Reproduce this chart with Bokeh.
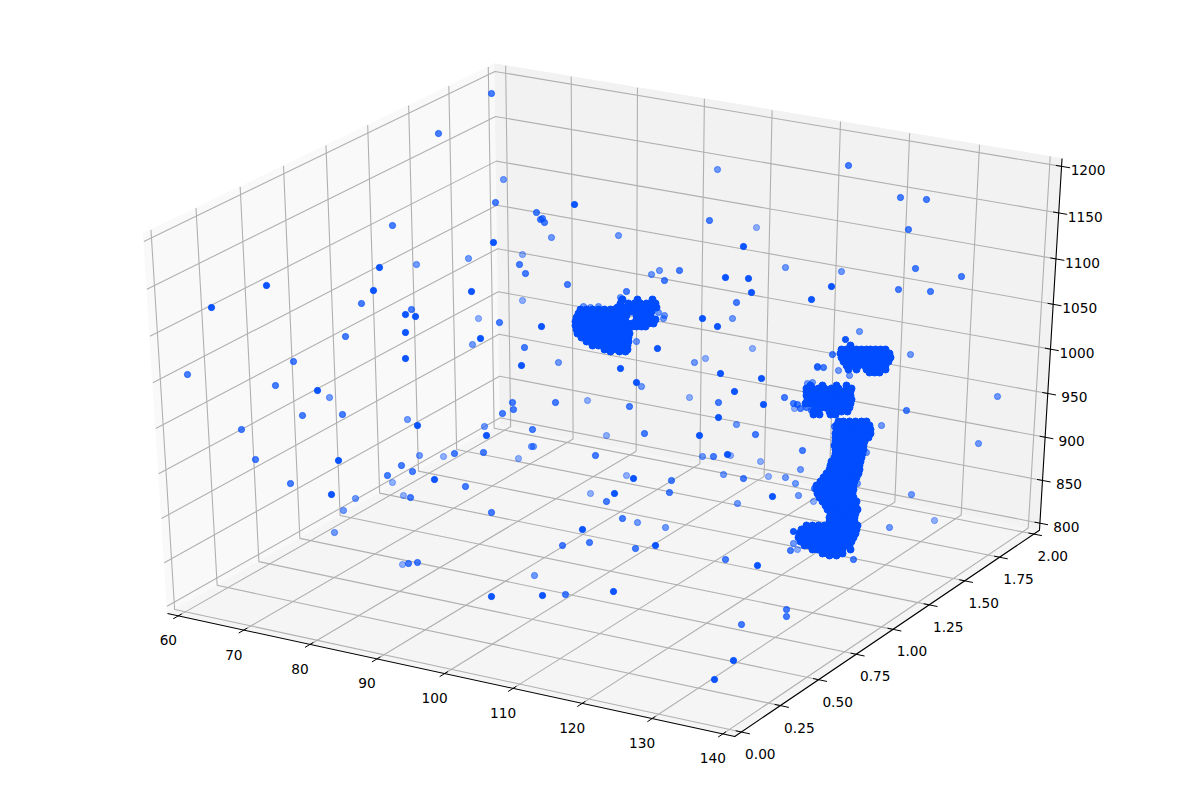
import numpy as np
from bokeh.plotting import figure
from bokeh.embed import file_html
from bokeh.resources import INLINE
from bokeh.core.properties import value

# axis content
x_ticks = [60, 70, 80, 90, 100, 110, 120, 130, 140]
y_ticks = [0.00, 0.25, 0.50, 0.75, 1.00, 1.25, 1.50, 1.75, 2.00]
z_ticks = [800, 850, 900, 950, 1000, 1050, 1100, 1150, 1200]
x_labels = ["60", "70", "80", "90", "100", "110", "120", "130", "140"]
y_labels = ["0.00", "0.25", "0.50", "0.75", "1.00", "1.25", "1.50", "1.75", "2.00"]
z_labels = ["800", "850", "900", "950", "1000", "1050", "1100", "1150", "1200"]
x_lim = (60, 140)
y_lim = (0, 2)
z_lim = (800, 1200)

# scatter points as seen in the picture's plane, split by depth shade
near_pts = [(493,242),(379,267),(266,285),(373,290),(471,291),(211,307),(405,314),(415,316),(405,332),(480,338),
            (405,358),(521,365),(317,390),(417,425),(486,435),(338,460),(434,479),(331,494),(491,596),(574,204),
            (743,246),(725,277),(748,278),(751,292),(811,299),(702,318),(717,326),(541,326),(657,348),(620,368),
            (720,373),(761,378),(636,382),(734,391),(763,404),(718,417),(699,435),(727,454),(772,496),(633,478),
            (614,493),(582,529),(655,545),(757,565),(613,591),(733,660),(714,679),(845,339),(793,531),(542,595),
            (831,286)]
mid_pts = [(491,93),(438,133),(495,202),(536,212),(540,219),(392,225),(519,264),(525,273),(361,303),(411,309),
           (499,322),(345,336),(524,347),(293,361),(187,374),(275,385),(512,402),(513,409),(302,415),(342,414),
           (502,413),(241,429),(532,429),(255,459),(454,453),(483,452),(401,465),(412,471),(387,475),(465,486),
           (290,483),(410,497),(491,512),(408,563),(417,562),(718,402),(555,402),(629,406),(755,434),(644,433),
           (595,455),(713,456),(743,478),(671,480),(669,492),(606,501),(622,518),(589,542),(562,545),(635,548),
           (725,559),(565,594),(542,218),(544,222),(709,220),(567,284),(679,270),(664,280),(736,302),(848,165),
           (900,197),(926,199),(908,229),(915,268),(961,276),(930,291),(898,289),(906,410),(786,609),(786,616),
           (741,624),(802,450),(814,488),(790,550),(853,559),(784,397),(626,291),(817,366),(823,367),(832,354),
           (800,408),(806,407),(811,410),(797,404),(793,403),(834,426),(835,455)]
far_pts = [(503,179),(416,264),(468,258),(472,344),(329,397),(407,419),(484,426),(419,455),(531,446),(533,446),
           (355,498),(343,510),(334,532),(534,575),(736,424),(702,456),(723,474),(737,503),(637,522),(665,527),
           (717,169),(551,237),(618,235),(785,267),(651,274),(659,270),(732,318),(636,341),(558,362),(694,362),
           (817,367),(641,386),(841,271),(859,331),(910,354),(997,396),(978,443),(911,494),(881,425),(889,527),
           (800,469),(785,477),(795,483),(798,495),(793,543),(620,297),(621,299),(583,306),(590,307),(598,306),
           (658,312),(664,315),(663,318),(838,370),(849,375),(807,383),(812,382),(833,463),(867,434),(866,452),
           (857,483)]
faint_pts = [(522,254),(522,300),(478,318),(443,456),(518,458),(392,482),(403,495),(402,564),(587,400),(606,435),
             (730,455),(760,461),(768,476),(626,475),(590,493),(756,227),(752,348),(705,358),(689,397),(934,520),
             (797,549),(813,501),(794,408)]

# dense clumps, row by row: {row: positions along the row}
clump_a = {309:[580,586,592,598,604,610,614],
           313:[578,583,588,594,600,606,612,618],
           317:[576,581,586,592,598,604,610,616,622],
           321:[575,580,585,590,596,602,608,614,620,625],
           325:[575,580,586,592,598,604,610,616,622,627],
           329:[576,582,588,594,600,606,612,618,624,628],
           333:[577,583,589,595,601,607,613,619,625,629],
           337:[581,587,593,599,605,611,617,623,628],
           341:[586,592,598,604,610,616,622,628],
           345:[592,598,604,610,616,622,627],
           349:[604,610,616,622,627],
           351:[610,619,625]}
clump_arm = {299:[622,637,652],
             303:[620,628,634,640,646,652,655],
             307:[617,622,628,633,640,646,652,656],
             311:[615,620,626,631,634,640,646,651],
             315:[614,620,626,636,640,646,650],
             319:[618,624,636,640,645,650,655],
             323:[622,627,632,636,640,644,648,653],
             326:[632,636,641,645]}
clump_b = {345:[850],
           349:[841,846,851,856,861,866,870,875,880,885],
           353:[840,845,850,855,860,865,870,875,880,885,889],
           357:[841,846,851,856,861,866,871,876,881,886,890],
           361:[843,848,853,858,863,868,873,878,883,888],
           365:[846,852,858,864,870,875,880,885],
           369:[848,856,866,871,876,881,885],
           372:[869,874,879]}
clump_c = {385:[810,822,836,846],
           388:[806,812,818,824,831,838,846,851],
           391:[806,811,816,821,826,831,836,841,846,850],
           395:[806,810,815,820,825,830,835,840,845,850],
           399:[807,812,817,822,827,832,837,842,847,851],
           403:[805,810,815,820,825,830,835,840,845,850],
           407:[815,820,825,830,835,840,845,849],
           411:[813,818,829,835,841,847],
           414:[813,819,830,835]}
clump_d = {421:[838,843,849,855,861,866],
           425:[836,841,846,851,856,861,866,869],
           429:[836,841,846,851,856,861,866,870],
           433:[835,840,845,850,855,860,866,870],
           437:[835,840,845,850,855,860,865,868],
           441:[835,840,845,850,855,860,864],
           445:[834,839,844,849,854,859,863],
           449:[835,840,845,850,855,860,863],
           453:[835,840,845,850,855,860,862],
           457:[834,839,844,849,854,858,861],
           461:[831,836,841,846,851,856,860],
           465:[830,835,840,845,850,855,859],
           469:[829,834,839,844,849,854,859],
           473:[826,831,836,841,846,851,856,858],
           477:[823,828,833,838,843,848,853,856],
           481:[820,825,830,835,840,845,850,854],
           485:[816,820,825,830,835,840,845,850,853],
           489:[816,820,825,830,835,840,845,850,853],
           493:[817,822,827,832,837,842,847,852],
           497:[819,824,829,834,839,844,849,853],
           501:[822,827,832,837,842,847,852,856],
           505:[825,830,835,840,845,850,855],
           509:[827,832,837,842,847,852,857],
           513:[830,835,840,845,850,855],
           517:[829,834,839,844,849,854],
           521:[829,834,839,844,849,854],
           525:[806,812,818,824,829,834,839,844,849,854,857],
           529:[801,806,811,816,821,826,831,836,841,846,851,856],
           533:[799,804,809,814,819,824,829,834,839,844,849,855],
           537:[798,803,808,813,818,823,828,833,838,843,848,853],
           541:[800,805,810,815,820,825,830,835,840,845,851],
           545:[804,809,814,819,824,829,834,839,844,849],
           549:[812,817,822,827,832,837,842,850],
           553:[822,827,832,837,842],
           555:[829,836]}

BLUE = "#004cff"
GRID = "#b0b0b0"

# camera of the original view (elevation 30, azimuth -60, distance 10)
elev, azim, dist = np.radians(30), np.radians(-60), 10.0
n = np.array([np.cos(azim)*np.cos(elev), np.sin(azim)*np.cos(elev), np.sin(elev)])
u = np.cross([0, 0, 1], n); u /= np.linalg.norm(u)
v = np.cross(n, u)
SX, SY, CX, CY = 6286.0, 4163.0, 610.0, 387.7


def unit(val, lim):
    return (val - lim[0]) / (lim[1] - lim[0])


def proj(a, b, c):
    d = np.array([a, b, c], dtype=float) - 0.5
    w = dist - n @ d
    return CX + SX * (u @ d) / w, CY - SY * (v @ d) / w


def path(*corners):
    pts = [proj(*c) for c in corners]
    return [q[0] for q in pts], [q[1] for q in pts]


LO, HI = -1 / 48, 1 + 1 / 48
INW, OUT = 0.010, 0.015

p = figure(width=1173, height=781, x_range=(0, 1173), y_range=(781, 0),
           x_axis_type=None, y_axis_type=None, toolbar_location=None,
           output_backend="svg", min_border=0, outline_line_color=None,
           background_fill_color="white", border_fill_color="white")
p.grid.visible = False

# panes
for corners, col in [
    ([(LO,LO,LO),(LO,HI,LO),(LO,HI,HI),(LO,LO,HI)], "#f9f9f9"),
    ([(LO,HI,LO),(HI,HI,LO),(HI,HI,HI),(LO,HI,HI)], "#f2f2f2"),
    ([(LO,LO,LO),(HI,LO,LO),(HI,HI,LO),(LO,HI,LO)], "#f5f5f5"),
]:
    xs, ys = path(*corners)
    p.patch(xs, ys, fill_color=col, line_color=col, line_width=1)

# grid
gx, gy = [], []
for t in x_ticks:
    a = unit(t, x_lim)
    xs, ys = path((a,LO,LO),(a,HI,LO),(a,HI,HI)); gx.append(xs); gy.append(ys)
for t in y_ticks:
    b = unit(t, y_lim)
    xs, ys = path((HI,b,LO),(LO,b,LO),(LO,b,HI)); gx.append(xs); gy.append(ys)
for t in z_ticks:
    c = unit(t, z_lim)
    xs, ys = path((LO,LO,c),(LO,HI,c),(HI,HI,c)); gx.append(xs); gy.append(ys)
p.multi_line(gx, gy, line_color=GRID, line_width=1.1)

# axis spines and ticks
ax, ay = [], []
xs, ys = path((LO,LO,LO),(HI,LO,LO),(HI,HI,LO),(HI,HI,HI)); ax.append(xs); ay.append(ys)
p.multi_line(ax, ay, line_color="black", line_width=1.1)

tx, ty = [], []
lab_x, lab_y, lab_t = [], [], []
for t, s in zip(x_ticks, x_labels):
    a = unit(t, x_lim)
    xs, ys = path((a,LO-OUT,LO),(a,LO+INW,LO)); tx.append(xs); ty.append(ys)
    q = proj(a, LO, LO); lab_x.append(q[0]-10); lab_y.append(q[1]+24.5); lab_t.append(s)
for t, s in zip(y_ticks, y_labels):
    b = unit(t, y_lim)
    xs, ys = path((HI-INW,b,LO),(HI+OUT,b,LO)); tx.append(xs); ty.append(ys)
    q = proj(HI, b, LO); lab_x.append(q[0]+19); lab_y.append(q[1]+22); lab_t.append(s)
for t, s in zip(z_ticks, z_labels):
    c = unit(t, z_lim)
    xs, ys = path((HI-INW,HI,c),(HI+OUT,HI,c)); tx.append(xs); ty.append(ys)
    q = proj(HI, HI, c); lab_x.append(q[0]+26.5); lab_y.append(q[1]+4); lab_t.append(s)
p.multi_line(tx, ty, line_color="black", line_width=1.0)
p.text(lab_x, lab_y, text=lab_t, text_font=value("DejaVu Sans"), text_font_size="13.7px",
       text_color="black", text_align="center", text_baseline="middle")

# points
for pts, alpha in [(faint_pts, 0.42), (far_pts, 0.55), (mid_pts, 0.72), (near_pts, 0.95)]:
    p.scatter([q[0] for q in pts], [q[1] for q in pts], size=6.2, marker="circle",
              fill_color=BLUE, fill_alpha=alpha, line_color=BLUE, line_alpha=alpha, line_width=1.0)

for clump in (clump_a, clump_arm, clump_b, clump_c, clump_d):
    cx = [x for row, vals in clump.items() for x in vals]
    cy = [row for row, vals in clump.items() for _ in vals]
    p.scatter(cx, cy, size=7.0, marker="circle", fill_color=BLUE, fill_alpha=1.0,
              line_color=BLUE, line_alpha=1.0, line_width=1.0)

open("out.html", "w").write(file_html(p, INLINE))
